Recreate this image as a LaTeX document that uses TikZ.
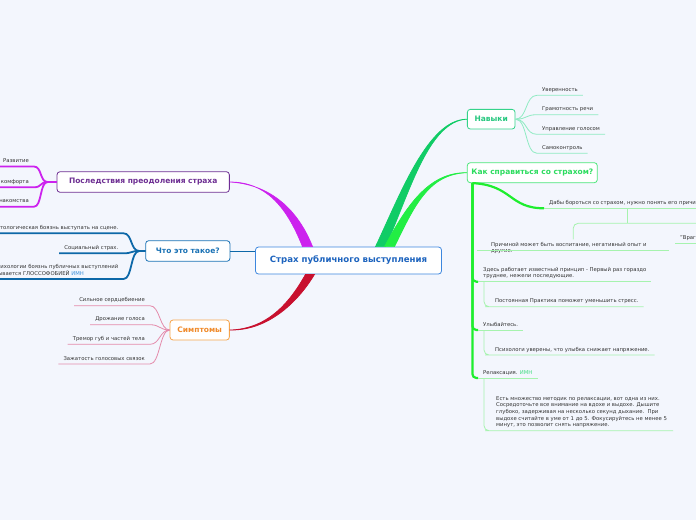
\documentclass[tikz,border=0pt]{standalone}
\usepackage{fontspec}
\setmainfont{DejaVu Sans}
\usetikzlibrary{calc}

\definecolor{bg}{HTML}{F3F6FD}
\definecolor{rootblue}{HTML}{3D87DE}
\definecolor{roottext}{HTML}{1C63BE}
\definecolor{navborder}{HTML}{34D38A}
\definecolor{navtext}{HTML}{25C77E}
\definecolor{navline}{HTML}{10CC66}
\definecolor{kakborder}{HTML}{4BE67A}
\definecolor{kaktext}{HTML}{2CDC5E}
\definecolor{kakline}{HTML}{22EE44}
\definecolor{purp}{HTML}{6E2F93}
\definecolor{mag}{HTML}{CC22EE}
\definecolor{chtoblue}{HTML}{1A72B5}
\definecolor{chtoline}{HTML}{0D68A8}
\definecolor{simborder}{HTML}{F6A54C}
\definecolor{simtext}{HTML}{F08A2A}
\definecolor{crimson}{HTML}{C8102E}
\definecolor{pink}{HTML}{E48BAB}
\definecolor{mint}{HTML}{8EEBC2}
\definecolor{stemgreen}{HTML}{1EEE2E}
\definecolor{palegreen}{HTML}{A6F3AE}
\definecolor{linkblue}{HTML}{3D8FD8}
\definecolor{linkgreen}{HTML}{3FDC80}
\definecolor{leafgray}{HTML}{333333}

\newcommand\leaffont{\fontsize{5.3}{6.7}\selectfont}
\newcommand\topicfont{\fontsize{7.5}{8.5}\selectfont\bfseries}
\newcommand\rootfont{\fontsize{8.6}{10}\selectfont\bfseries}

\tikzset{
  root/.style={draw=rootblue,fill=white,rounded corners=3pt,line width=0.8pt,text=roottext,font=\rootfont,minimum width=186pt,minimum height=27pt,inner sep=0pt},
  topic/.style={fill=white,rounded corners=3pt,line width=0.8pt,font=\topicfont,inner sep=0pt},
  leaf/.style={font=\leaffont,text=leafgray,inner xsep=5pt,inner ysep=2.4pt,text depth=1.3pt,align=left},
  magline/.style={mag,line width=1.8pt},
  blueline/.style={chtoline,line width=1.8pt},
  pinkline/.style={pink,line width=0.8pt},
  mintline/.style={mint,line width=0.8pt},
  stem/.style={stemgreen,line width=2.2pt},
  paleline/.style={palegreen,line width=0.8pt}
}

\begin{document}
\begin{tikzpicture}[x=1pt,y=-1pt]
\useasboundingbox (0,0) rectangle (696,520);
\clip (0,0) rectangle (696,520);
\fill[bg] (0,0) rectangle (696,520);

\node[root] (c) at (348.5,260.5) {Страх публичного выступления};
\node[topic,draw=navborder,text=navtext,minimum width=47.7pt,minimum height=19.7pt] (nav) at (491.2,119.2) {Навыки};
\node[topic,draw=kakborder,text=kaktext,minimum width=130pt,minimum height=20pt] (kak) at (532.3,172.7) {Как справиться со страхом?};
\node[topic,draw=purp,text=purp,minimum width=172.3pt,minimum height=20.6pt] (pos) at (143.2,182) {Последствия преодоления страха};
\node[topic,draw=chtoblue,text=chtoblue,minimum width=84.3pt,minimum height=20.6pt] (chto) at (187.8,251) {Что это такое?};
\node[topic,draw=simborder,text=simtext,minimum width=59.3pt,minimum height=20pt] (sim) at (199.7,330) {Симптомы};

\node[leaf,anchor=south west] (n1) at (537,95.3) {Уверенность};
\node[leaf,anchor=south west] (n2) at (537,114.7) {Грамотность речи};
\node[leaf,anchor=south west] (n3) at (537,134.3) {Управление голосом};
\node[leaf,anchor=south west] (n4) at (537,153.3) {Самоконтроль};

\node[leaf,anchor=south east] (p1) at (34,166.5) {Развитие};
\node[leaf,anchor=south east] (p2) at (34,187.3) {Выход из зоны комфорта};
\node[leaf,anchor=south east] (p3) at (34,206.7) {Новые знакомства};

\node[leaf,anchor=south east] (w1) at (123.5,233.3) {Патологическая боязнь выступать на сцене.};
\node[leaf,anchor=south east] (w2) at (123.5,253.3) {Социальный страх.};
\node[leaf,anchor=south east] (w3) at (123.5,279) {В психологии боязнь публичных выступлений\\называется ГЛОССОФОБИЕЙ \textcolor{linkblue}{ИМН}};

\node[leaf,anchor=south east] (s1) at (150,305.7) {Сильное сердцебиение};
\node[leaf,anchor=south east] (s2) at (150,324.7) {Дрожание голоса};
\node[leaf,anchor=south east] (s3) at (150,344.3) {Тремор губ и частей тела};
\node[leaf,anchor=south east] (s4) at (150,364) {Зажатость голосовых связок};

\node[leaf,anchor=south west] (k0) at (544,208.3) {Дабы бороться со страхом, нужно понять его причины.};
\node[leaf,anchor=south west,inner xsep=14pt,text width=164pt] (k1) at (477,250) {Причиной может быть воспитание, негативный опыт и\\другие.};
\node[leaf,anchor=south west,text width=60pt] (k2) at (675,243) {"Враг};
\node[leaf,anchor=south west] (k3) at (478,281.7) {Здесь работает известный принцип - Первый раз гораздо\\труднее, нежели последующие.};
\node[leaf,anchor=south west] (k4) at (490,306.7) {Постоянная Практика поможет уменьшить стресс.};
\node[leaf,anchor=south west] (k5) at (478,330) {Улыбайтесь.};
\node[leaf,anchor=south west] (k6) at (490,355) {Психологи уверены, что улыбка снижает напряжение.};
\node[leaf,anchor=south west] (k7) at (478,378) {Релаксация. \textcolor{linkgreen}{ИМН}};
\node[leaf,anchor=south west,inner xsep=6pt] (k8) at (490,430.7) {Есть множество методик по релаксации, вот одна из них.\\Сосредоточьте все внимание на вдохе и выдохе. Дышите\\глубоко, задерживая на несколько секунд дыхание.~~При\\выдохе считайте в уме от 1 до 5. Фокусируйтесь не менее 5\\минут, это позволит снять напряжение.};

\filldraw[mag,line width=0.7pt] ($(c.north)+(-46,0)$) .. controls (286,205) and (265,182) .. (pos.east) .. controls (266,184) and (296,205) .. ($(c.north)+(-36,0)$) -- cycle;
\filldraw[navline,line width=0.7pt] ($(c.north)+(27,0)$) .. controls (400,195) and (428,119) .. (nav.west) .. controls (428,121) and (409,195) .. ($(c.north)+(37,0)$) -- cycle;
\filldraw[kakline,line width=0.7pt] ($(c.north)+(36,0)$) .. controls (406,207) and (428,172) .. (kak.west) .. controls (428,174) and (414,207) .. ($(c.north)+(46,0)$) -- cycle;
\filldraw[crimson,line width=0.7pt] ($(c.south)+(-43,0)$) .. controls (290,302) and (268,329) .. (sim.east) .. controls (268,331) and (298,302) .. ($(c.south)+(-34,0)$) -- cycle;
\draw[chtoline,line width=1pt] (chto.east) -- (chto.east -| c.west);

\foreach \n in {n1,n2,n3,n4}
  \draw[mintline] (nav.east) .. controls +(12,0) and +(-12,0) .. (\n.south west) -- (\n.south east);
\foreach \n in {p1,p2,p3}
  \draw[magline] (pos.west) -- ++(-9,0) .. controls +(-8,0) and +(8,0) .. (\n.south east) -- (\n.south west);
\foreach \n in {w1,w2,w3}
  \draw[blueline] (chto.west) -- ++(-6,0) .. controls +(-9,0) and +(9,0) .. (\n.south east) -- (\n.south west);
\foreach \n in {s1,s2,s3,s4}
  \draw[pinkline] (sim.west) .. controls +(-10,0) and +(10,0) .. (\n.south east) -- (\n.south west);

\coordinate (ks) at ($(kak.south west)+(5.5,0)$);
\draw[stem] (ks) .. controls +(40,2) and +(-35,0) .. (k0.south west);
\foreach \n in {k3,k5,k7}
  \draw[stem,rounded corners=4pt] (ks) |- (\n.south west);
\foreach \n in {k0,k1,k2,k3,k5,k7}
  \draw[paleline] (\n.south west) -- (\n.south east);
\foreach \a/\b in {k3/k4,k5/k6,k7/k8}
  \draw[paleline,rounded corners=5pt] ($(\a.south west)+(6,0)$) |- (\b.south west) -- (\b.south east);
\draw[paleline] (k0.south) -- ++(0,15) coordinate (kb);
\draw[paleline,rounded corners=5pt] (k1.north) |- (kb) -| (k2.north);
\end{tikzpicture}
\end{document}
